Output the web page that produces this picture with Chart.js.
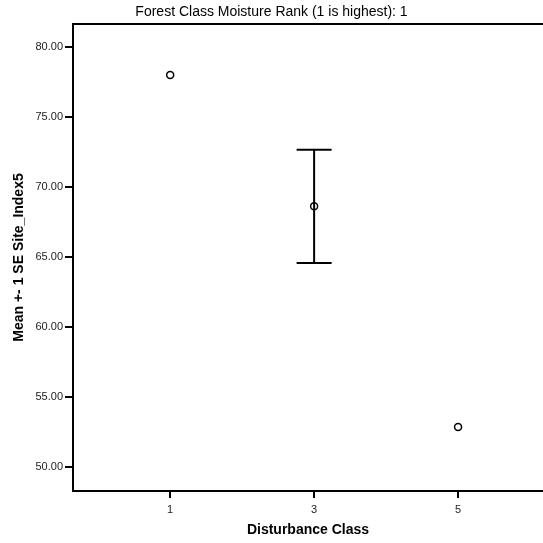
<!DOCTYPE html>
<html>
<head>
<meta charset="utf-8">
<script src="https://cdn.jsdelivr.net/npm/chart.js@4/dist/chart.umd.min.js"></script>
<style>
  html, body { margin: 0; padding: 0; background: #fff; }
  #wrap { width: 543px; height: 543px; }
</style>
</head>
<body>
<div id="wrap"><canvas id="c" width="543" height="543"></canvas></div>
<script>
// Disturbance classes and site index means with +-1 SE
const disturbanceClass = [1, 3, 5];
const meanSiteIndex = [78.0, 68.62, 52.86];
const seLower = [null, 64.57, null];
const seUpper = [null, 72.66, null];

const xTicks = [1, 3, 5];
const yTicks = [50, 55, 60, 65, 70, 75, 80];

const points = disturbanceClass.map((x, i) => ({ x: x, y: meanSiteIndex[i] }));

// Draws the SE whiskers with caps, and the top frame line
const errorBarPlugin = {
  id: 'errorBars',
  afterDatasetsDraw(chart) {
    const ctx = chart.ctx;
    const xs = chart.scales.x, ys = chart.scales.y;
    ctx.save();
    ctx.strokeStyle = '#000';
    ctx.lineWidth = 2;
    const cap = 17.5;
    disturbanceClass.forEach((x, i) => {
      if (seLower[i] == null || seUpper[i] == null) return;
      const px = xs.getPixelForValue(x);
      const pLo = ys.getPixelForValue(seLower[i]);
      const pHi = ys.getPixelForValue(seUpper[i]);
      ctx.beginPath();
      ctx.moveTo(px, pLo); ctx.lineTo(px, pHi);
      ctx.moveTo(px - cap, pLo); ctx.lineTo(px + cap, pLo);
      ctx.moveTo(px - cap, pHi); ctx.lineTo(px + cap, pHi);
      ctx.stroke();
    });
    const a = chart.chartArea;
    ctx.beginPath();
    ctx.moveTo(a.left, a.top);
    ctx.lineTo(a.right, a.top);
    ctx.stroke();
    ctx.restore();
  }
};

new Chart(document.getElementById('c'), {
  type: 'scatter',
  data: {
    datasets: [{
      data: points,
      pointStyle: 'circle',
      pointRadius: 3.5,
      pointBorderWidth: 1.5,
      pointBackgroundColor: '#fff',
      pointBorderColor: '#000',
      showLine: false
    }]
  },
  options: {
    responsive: false,
    animation: false,
    layout: { autoPadding: false, padding: { top: 0, left: 0, right: 0, bottom: 0 } },
    plugins: {
      legend: { display: false },
      tooltip: { enabled: false },
      title: {
        display: true,
        text: 'Forest Class Moisture Rank (1 is highest): 1',
        color: '#000',
        font: { family: 'Liberation Sans, Arial', size: 14, weight: 'normal' },
        padding: { top: 3.5, bottom: 3.7 }
      }
    },
    scales: {
      x: {
        type: 'linear',
        min: -0.35,
        max: 6.18,
        afterBuildTicks(scale) { scale.ticks = xTicks.map(v => ({ value: v })); },
        afterFit(scale) { scale.height = 52; },
        border: { color: '#000', width: 2 },
        grid: { drawOnChartArea: false, tickLength: 7, color: '#000', lineWidth: 2 },
        ticks: {
          color: '#222',
          font: { family: 'Liberation Sans, Arial', size: 11 },
          padding: 5,
          maxRotation: 0,
          callback: v => String(v)
        },
        title: {
          display: true,
          text: 'Disturbance Class',
          color: '#000',
          font: { family: 'Liberation Sans, Arial', size: 14, weight: 'bold' },
          padding: { top: 0, bottom: 4.6 }
        }
      },
      y: {
        type: 'linear',
        min: 48.29,
        max: 81.64,
        afterBuildTicks(scale) { scale.ticks = yTicks.map(v => ({ value: v })); },
        afterFit(scale) { scale.width = 73; },
        border: { color: '#000', width: 2 },
        grid: { drawOnChartArea: false, tickLength: 8, color: '#000', lineWidth: 2 },
        ticks: {
          color: '#222',
          font: { family: 'Liberation Sans, Arial', size: 11 },
          padding: 2,
          callback: v => Number(v).toFixed(2)
        },
        title: {
          display: true,
          text: 'Mean +- 1 SE Site_Index5',
          color: '#000',
          font: { family: 'Liberation Sans, Arial', size: 14, weight: 'bold' },
          padding: { top: 11, bottom: 0 }
        }
      }
    }
  },
  plugins: [errorBarPlugin]
});
</script>
</body>
</html>
